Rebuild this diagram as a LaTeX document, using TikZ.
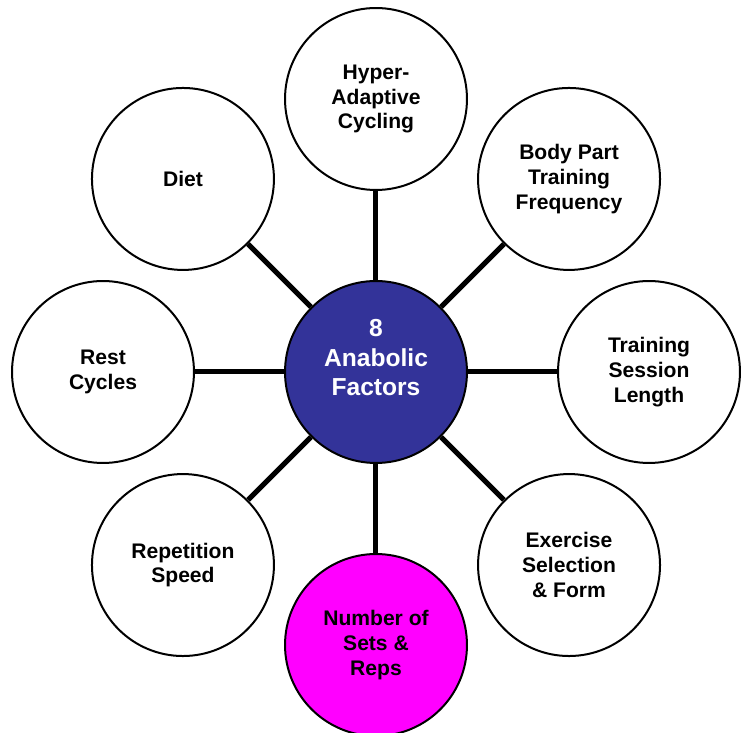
\documentclass[tikz,border=0pt]{standalone}
\usepackage{fontspec}
\setmainfont{Liberation Sans}
\definecolor{hubblue}{RGB}{51,51,153}
\definecolor{setspink}{RGB}{255,0,255}

\begin{document}
\begin{tikzpicture}[x=0.02cm, y=0.02cm,
    factor/.style={circle, draw, line width=0.04cm, minimum size=3.64cm,
        inner sep=0pt, align=center, font=\bfseries\fontsize{12}{14.2}\selectfont},
    spoke/.style={line width=0.1cm}]
\useasboundingbox (-376,-361) rectangle (365,372);

% hub circle and its text
\node[factor, fill=hubblue] (hub) at (0,0) {};
\node[text=white, align=center, font=\bfseries\fontsize{14}{16.8}\selectfont] (hubtext) at (0,14) {8\\Anabolic\\Factors};

% the eight factors round the hub
\foreach \ang/\name/\col/\txt in {90/cycling/white/{Hyper-\\Adaptive\\Cycling},
        45/frequency/white/{Body Part\\Training\\Frequency},
        0/length/white/{Training\\Session\\Length},
        -45/exercise/white/{Exercise\\Selection\\\& Form},
        -90/sets/setspink/{Number of\\Sets \&\\Reps},
        -135/speed/white/{Repetition\\Speed},
        180/rest/white/{Rest\\Cycles},
        135/diet/white/{Diet}}
    \node[factor, fill=\col] (\name) at (\ang:273) {\txt};

\foreach \name in {cycling, frequency, length, exercise, sets, speed, rest, diet}
    \draw[spoke] (hub) -- (\name);
\end{tikzpicture}
\end{document}
